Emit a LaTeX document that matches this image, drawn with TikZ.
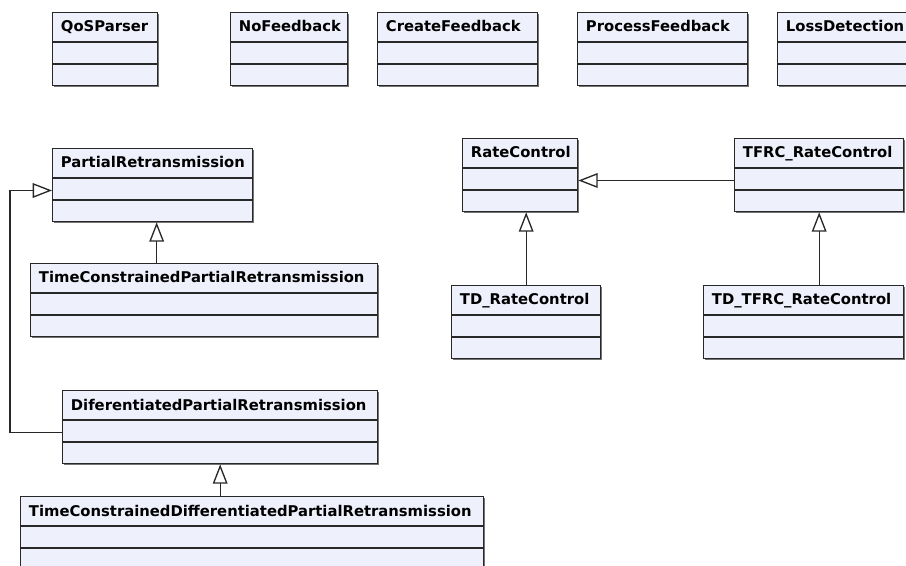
\documentclass[tikz,border=0pt]{standalone}
\usepackage{fontspec}
\setmainfont{DejaVu Sans}
\usetikzlibrary{arrows.meta,shadows}

\definecolor{classfill}{RGB}{238,240,252}
\definecolor{classline}{RGB}{40,40,40}

\tikzset{
    classbox/.style={rectangle, draw=classline, line width=1pt, fill=classfill,
        inner sep=0pt, minimum height=54.75pt, anchor=north west,
        drop shadow={shadow xshift=1.3pt, shadow yshift=-1.3pt, fill=black!55, opacity=1}},
    classname/.style={anchor=base west, inner sep=0pt,
        font=\fontsize{11.1}{13}\selectfont\bfseries},
    compartment/.style={draw=classline, line width=0.9pt},
    inherit/.style={draw=classline, line width=1pt,
        -{Triangle[open, length=14.5pt, width=11pt, fill=white]}}
}

% one class box: name, x, y (pixels), width (pixels), title
\newcommand{\umlclass}[5]{%
    \node[classbox, minimum width=#4*0.75pt] (#1) at (#2,#3) {};
    \node[classname] (#1-name) at ([xshift=6.5pt,yshift=-15pt]#1.north west) {#5};
    \draw[compartment] ([yshift=-22.5pt]#1.north west) -- ([yshift=-22.5pt]#1.north east);
    \draw[compartment] ([yshift=-39pt]#1.north west) -- ([yshift=-39pt]#1.north east);
}

\begin{document}
\begin{tikzpicture}[x=0.75pt,y=-0.75pt]

    \useasboundingbox (0,0) rectangle (906,566);

    % top row
    \umlclass{qos}{52}{12}{105}{QoSParser}
    \umlclass{nofb}{230}{12}{117}{NoFeedback}
    \umlclass{createfb}{377}{12}{160}{CreateFeedback}
    \umlclass{processfb}{577}{12}{170}{ProcessFeedback}
    \umlclass{loss}{777}{12}{140}{LossDetection}

    % retransmission
    \umlclass{pr}{52}{148}{200}{PartialRetransmission}
    \umlclass{tcpr}{30}{263}{347}{TimeConstrainedPartialRetransmission}
    \umlclass{dpr}{62}{390}{315}{DiferentiatedPartialRetransmission}
    \umlclass{tcdpr}{20}{496}{463}{TimeConstrainedDifferentiatedPartialRetransmission}

    % rate control
    \umlclass{rc}{462}{138}{115}{RateControl}
    \umlclass{tfrc}{734}{138}{169}{TFRC\_RateControl}
    \umlclass{tdrc}{451}{285}{149}{TD\_RateControl}
    \umlclass{tdtfrc}{703}{285}{200}{TD\_TFRC\_RateControl}

    % generalisations
    \coordinate (prfoot) at ([xshift=3pt]pr.south);
    \draw[inherit] (tcpr.north -| prfoot) -- (prfoot);
    \draw[inherit] ([yshift=-4pt]dpr.west) -- ++(-52,0) |- ([yshift=-4pt]pr.west);
    \draw[inherit] (tcdpr.north -| dpr.south) -- (dpr.south);
    \draw[inherit] ([yshift=-4pt]tfrc.west) -- ([yshift=-4pt]rc.east);
    \draw[inherit] (tdrc.north) -- (tdrc.north |- rc.south);
    \draw[inherit] (tdtfrc.north -| tfrc.south) -- (tfrc.south);

\end{tikzpicture}
\end{document}
